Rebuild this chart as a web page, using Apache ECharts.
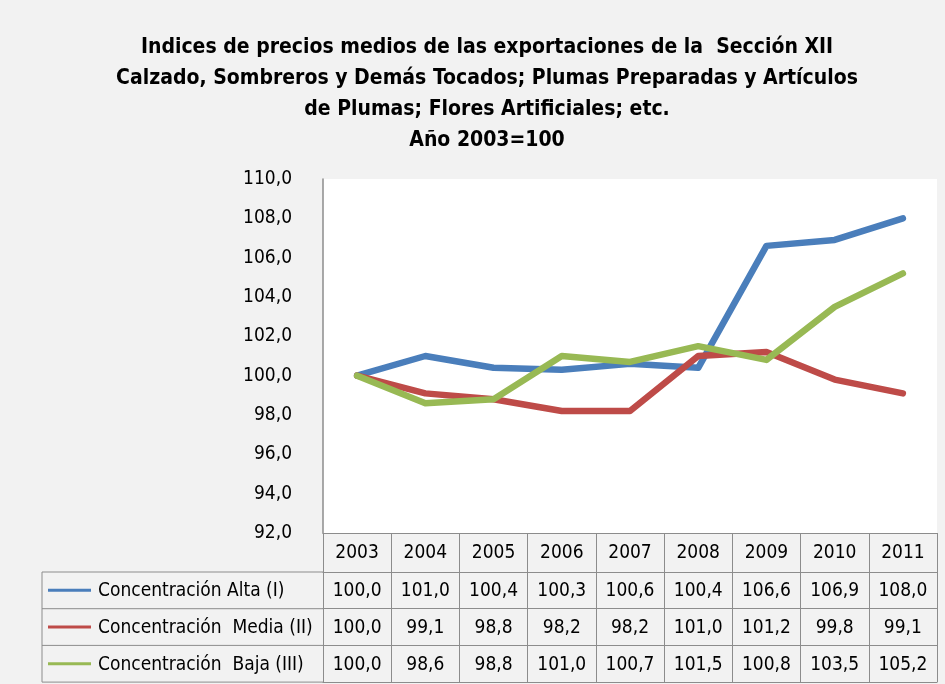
<!DOCTYPE html>
<html><head><meta charset="utf-8">
<script src="https://cdn.jsdelivr.net/npm/echarts@6/dist/echarts.min.js"></script>
<style>html,body{margin:0;padding:0;background:#f2f2f2}#c{width:945px;height:684px}</style>
</head><body><div id="c"></div><script>
const years = ['2003','2004','2005','2006','2007','2008','2009','2010','2011'];
const seriesNames = ['Concentración Alta (I)','Concentración  Media (II)','Concentración  Baja (III)'];
const alta  = [100.0,101.0,100.4,100.3,100.6,100.4,106.6,106.9,108.0];
const media = [100.0, 99.1, 98.8, 98.2, 98.2,101.0,101.2, 99.8, 99.1];
const baja  = [100.0, 98.6, 98.8,101.0,100.7,101.5,100.8,103.5,105.2];
const yMin = 92, yMax = 110, yStep = 2;
const titleLines = ['Indices de precios medios de las exportaciones de la  Sección XII',
  'Calzado, Sombreros y Demás Tocados; Plumas Preparadas y Artículos',
  'de Plumas; Flores Artificiales; etc.','Año 2003=100'];

const allSeries = [alta, media, baja];
const colors = ['#4a7ebb','#be4b48','#98b954'];
const FONT = "'DejaVu Sans Condensed','Liberation Sans',sans-serif";
const fmt = v => v.toFixed(1).replace('.', ',');
const gridL = 323, gridR = 8, gridTop = 179, gridBottom = 151;
const axisY = 684 - gridBottom;   // 533
const headH = 39, rowH = 36.7;
const rowTop = k => axisY + headH + rowH * k;   // top of data row k
const tableBottom = rowTop(3);
const tableLeft = 42;
const lineCol = '#8c8c8c';
const tblFont = 19;

const xAxes = [{
  type:'category', data: years, gridIndex:0, position:'bottom', offset:0,
  boundaryGap:true,
  axisLine:{show:true, lineStyle:{color:lineCol, width:1}},
  axisTick:{show:true, interval:0, length: tableBottom - axisY, lineStyle:{color:lineCol}},
  axisLabel:{interval:0, margin:(headH - tblFont)/2 + 1, fontSize:tblFont, color:'#000', fontFamily:FONT}
}];
allSeries.forEach((s, k) => {
  xAxes.push({
    type:'category', data: years, gridIndex:0, position:'bottom', offset: rowTop(k) - axisY,
    boundaryGap:true,
    axisLine:{show:true, lineStyle:{color:lineCol, width:1}},
    axisTick:{show:false},
    axisLabel:{interval:0, margin:(rowH - tblFont)/2 + 1, fontSize:tblFont, color:'#000', fontFamily:FONT,
      formatter:(v, i) => fmt(s[i])}
  });
});
xAxes.push({
  type:'category', data: years, gridIndex:0, position:'bottom', offset: tableBottom - axisY,
  axisLine:{show:true, lineStyle:{color:lineCol, width:1}},
  axisTick:{show:false}, axisLabel:{show:false}
});

const graphics = [];
for (let r = 0; r <= 3; r++) {
  graphics.push({type:'line', shape:{x1:tableLeft, y1:rowTop(r), x2:gridL, y2:rowTop(r)},
    style:{stroke:lineCol, lineWidth:1}, silent:true});
}
graphics.push({type:'line', shape:{x1:tableLeft, y1:rowTop(0), x2:tableLeft, y2:tableBottom},
  style:{stroke:lineCol, lineWidth:1}, silent:true});
seriesNames.forEach((n, k) => {
  const cy = rowTop(k) + rowH/2;
  graphics.push({type:'line', shape:{x1:48, y1:cy, x2:91, y2:cy},
    style:{stroke:colors[k], lineWidth:3}, silent:true});
  graphics.push({type:'text', x:98, y:cy + 1, style:{text:n, fontSize:tblFont, fontFamily:FONT, fill:'#000',
    verticalAlign:'middle', align:'left'}, silent:true});
});

const chart = echarts.init(document.getElementById('c'));
chart.setOption({
  backgroundColor:'#f2f2f2',
  animation:false,
  title:{text: titleLines.join('\n'), left:482, textAlign:'center', top:27,
    textStyle:{fontFamily:FONT, fontWeight:'bold', fontSize:21, lineHeight:31, color:'#000'}},
  grid:{left:gridL, right:gridR, top:gridTop, bottom:gridBottom, show:true,
    backgroundColor:'#ffffff', borderWidth:0},
  xAxis: xAxes,
  yAxis:{type:'value', min:yMin, max:yMax, interval:yStep,
    axisLine:{show:true, lineStyle:{color:lineCol, width:1.5}},
    axisTick:{show:false}, splitLine:{show:false},
    axisLabel:{formatter:v => fmt(v), margin:31, fontSize:19, color:'#000', fontFamily:FONT}},
  series: allSeries.map((s, k) => ({
    name: seriesNames[k], type:'line', data:s, xAxisIndex:0, yAxisIndex:0,
    showSymbol:false, symbol:'none',
    lineStyle:{color:colors[k], width:6.5, cap:'round', join:'round'},
    itemStyle:{color:colors[k]}, z:3 + (k === 2 ? 1 : 0)
  })),
  graphic: graphics
});
</script></body></html>
